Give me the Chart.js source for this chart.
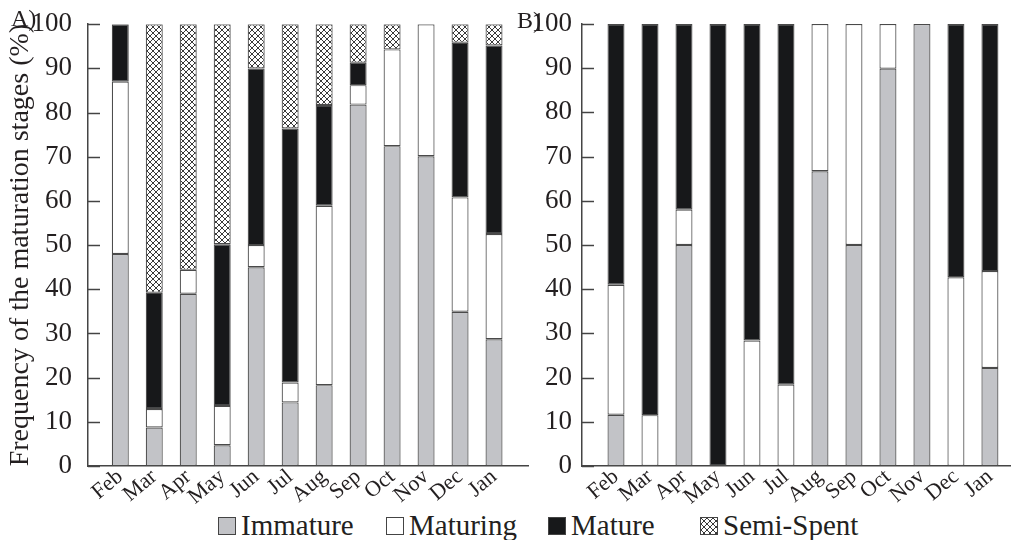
<!DOCTYPE html>
<html>
<head>
<meta charset="utf-8">
<script src="https://cdn.jsdelivr.net/npm/chart.js@4"></script>
<style>
  body { margin: 0; background: #fff; width: 1011px; height: 540px; position: relative; overflow: hidden; font-family: "Liberation Serif", "Times New Roman", serif; color: #231f20; }
  #chartA { position: absolute; left: 0; top: 0; }
  #chartB { position: absolute; left: 515px; top: 0; }
  .panel { position: absolute; font-size: 24px; }
  .item { position: absolute; top: 509px; display: flex; align-items: center; font-size: 29px; white-space: nowrap; }
  .swatch { width: 18px; height: 18px; border: 1px solid #444; margin-right: 5px; box-sizing: border-box; }
</style>
</head>
<body>
<canvas id="chartA" width="530" height="505"></canvas>
<canvas id="chartB" width="496" height="505"></canvas>
<div class="panel" style="left:11px; top:5px;">A)</div>
<div class="panel" style="left:517px; top:7px;">B)</div>
<div id="legend"></div>

<script>
const months = ["Feb", "Mar", "Apr", "May", "Jun", "Jul", "Aug", "Sep", "Oct", "Nov", "Dec", "Jan"];
const yTicks = [0, 10, 20, 30, 40, 50, 60, 70, 80, 90, 100];
const stageNames = ["Immature", "Maturing", "Mature", "Semi-Spent"];

// A) values (%)
const immatureA = [48, 8.7, 39, 4.7, 45, 14.4, 18.3, 81.8, 72.4, 70.1, 34.9, 28.7];
const maturingA = [39, 4.2, 5.4, 8.9, 5, 4.5, 40.6, 4.4, 21.9, 29.9, 25.9, 23.8];
const matureA = [13, 26.3, 0, 36.6, 40, 57.5, 22.8, 5.1, 0, 0, 35.0, 42.7];
const semiSpentA = [0, 60.8, 55.6, 49.8, 10, 23.6, 18.3, 8.7, 5.7, 0, 4.2, 4.8];

// B) values (%)
const immatureB = [11.6, 0, 50, 0, 0, 0, 66.7, 50, 89.9, 100, 0, 22.2];
const maturingB = [29.4, 11.5, 8, 0, 28.4, 18.4, 33.3, 50, 10.1, 0, 42.7, 21.9];
const matureB = [59, 88.5, 42, 100, 71.6, 81.6, 0, 0, 0, 0, 57.3, 55.9];
const semiSpentB = [0, 0, 0, 0, 0, 0, 0, 0, 0, 0, 0, 0];

const axisColor = "#444";
const textColor = "#231f20";
const serif = "'Liberation Serif', 'Times New Roman', serif";

// crosshatch for semi-spent
const hatchCanvas = document.createElement("canvas");
hatchCanvas.width = 6;
hatchCanvas.height = 6;
const hctx = hatchCanvas.getContext("2d");
hctx.fillStyle = "#fff";
hctx.fillRect(0, 0, 6, 6);
hctx.strokeStyle = "#3a3a3a";
hctx.lineWidth = 1;
hctx.beginPath();
hctx.moveTo(0, 0); hctx.lineTo(6, 6);
hctx.moveTo(6, 0); hctx.lineTo(0, 6);
hctx.stroke();
const hatch = hctx.createPattern(hatchCanvas, "repeat");

const fills = ["#c2c3c7", "#ffffff", "#17181a", hatch];

// legend boxes' left edges
const legendLeft = [218, 386, 548, 700];

// ticks point into the plot
const inwardTicks = {
  id: "inwardTicks",
  afterDraw(chart) {
    const y = chart.scales.y;
    const ctx = chart.ctx;
    const left = chart.chartArea.left;
    ctx.save();
    ctx.strokeStyle = axisColor;
    ctx.lineWidth = 1.5;
    y.ticks.forEach(t => {
      const py = Math.round(y.getPixelForValue(t.value)) + 0.5;
      ctx.beginPath();
      ctx.moveTo(left, py);
      ctx.lineTo(left + 12, py);
      ctx.stroke();
    });
    ctx.restore();
  }
};

function toPoints(values) {
  return values.map((v, i) => ({ x: i, y: v }));
}

function createPanel(id, series, opts) {

  new Chart(document.getElementById(id), {
    type: "bar",
    data: {
      datasets: series.map((values, k) => ({
        label: stageNames[k],
        data: toPoints(values),
        backgroundColor: fills[k],
        borderColor: "#4a4a4a",
        borderWidth: 1.2,
        borderSkipped: false,
        barPercentage: 0.5,
        categoryPercentage: 1
      }))
    },
    options: {
      responsive: false,
      animation: false,
      layout: {
        autoPadding: false,
        padding: { top: 24, right: opts.padRight, bottom: 0, left: 0 }
      },
      plugins: { legend: { display: false }, tooltip: { enabled: false } },
      scales: {
        x: {
          type: "linear",
          offset: false,
          stacked: true,
          min: opts.xMin,
          max: opts.xMax,
          afterBuildTicks: s => { s.ticks = months.map((m, i) => ({ value: i })); },
          afterFit: s => { s.height = 39; s.paddingLeft = 0; s.paddingRight = 0; },
          grid: { display: false },
          border: { display: true, color: axisColor, width: 1.5 },
          ticks: {
            autoSkip: false,
            minRotation: 40,
            maxRotation: 40,
            padding: -10,
            color: textColor,
            font: { family: serif, size: 22 },
            callback: v => months[v]
          }
        },
        y: {
          stacked: true,
          min: 0,
          max: 100,
          afterBuildTicks: s => { s.ticks = yTicks.map(v => ({ value: v })); },
          afterFit: s => { s.width = opts.yWidth; },
          grid: { display: false },
          border: { display: true, color: axisColor, width: 1.5 },
          ticks: {
            padding: opts.tickPad,
            color: textColor,
            font: { family: serif, size: 27 }
          },
          title: {
            display: opts.title !== "",
            text: opts.title,
            color: textColor,
            font: { family: serif, size: 28 },
            padding: { top: 4, bottom: 0 }
          }
        }
      }
    },
    plugins: [inwardTicks]
  });

}

createPanel("chartA", [immatureA, maturingA, matureA, semiSpentA], {
  xMin: -0.95, xMax: 12, padRight: 2, yWidth: 88, tickPad: 8,
  title: "Frequency of the maturation stages (%)"
});

createPanel("chartB", [immatureB, maturingB, matureB, semiSpentB], {
  xMin: -1, xMax: 11.62, padRight: 0, yWidth: 67, tickPad: 2,
  title: ""
});

// shared legend
const legend = document.getElementById("legend");
stageNames.forEach((name, k) => {
  const item = document.createElement("div");
  item.className = "item";
  item.style.left = legendLeft[k] + "px";
  const sw = document.createElement("span");
  sw.className = "swatch";
  if (k === 3) {
    sw.style.backgroundImage = "url(" + hatchCanvas.toDataURL() + ")";
  } else {
    sw.style.background = fills[k];
  }
  const label = document.createElement("span");
  label.textContent = name;
  item.appendChild(sw);
  item.appendChild(label);
  legend.appendChild(item);
});
</script>
</body>
</html>
